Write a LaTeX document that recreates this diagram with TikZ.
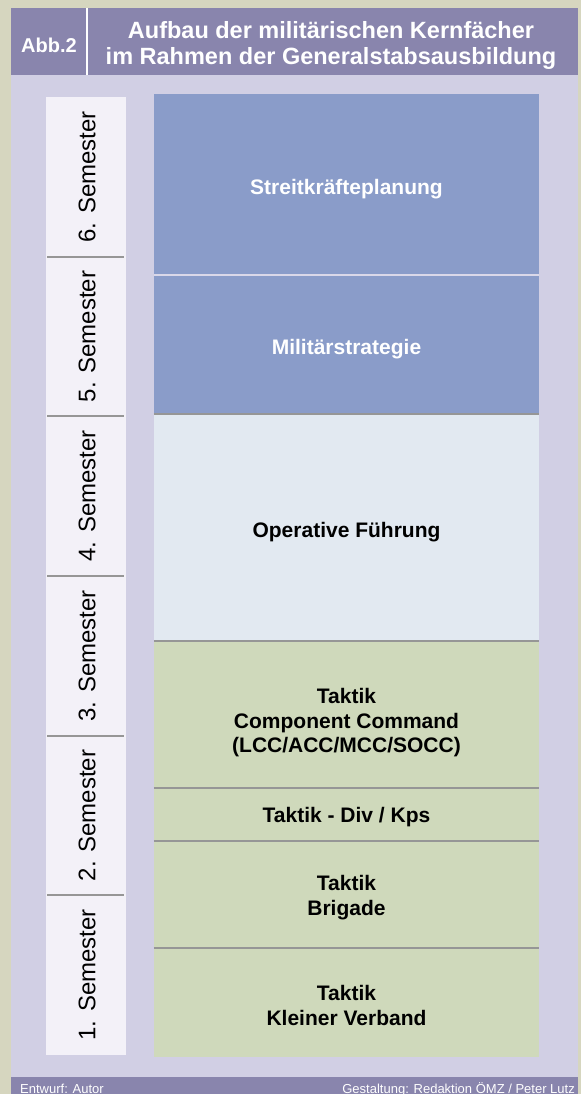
\documentclass[tikz,border=0pt]{standalone}
\usepackage{fontspec}
\setmainfont{Liberation Sans}
\usepackage{tikz}

\definecolor{rahmen}{RGB}{214,214,191}
\definecolor{kopf}{RGB}{137,133,173}
\definecolor{grund}{RGB}{209,207,228}
\definecolor{semfeld}{RGB}{243,241,248}
\definecolor{blaufeld}{RGB}{138,156,201}
\definecolor{hellfeld}{RGB}{226,233,241}
\definecolor{gruenfeld}{RGB}{207,217,187}
\definecolor{trenner}{RGB}{150,150,150}

\begin{document}
\begin{tikzpicture}[x=1pt,y=1pt,yscale=-1,xscale=1,
  fach/.style={draw=none,inner sep=0pt,minimum width=385},
  fachtext/.style={inner sep=0pt,align=center,
    font=\fontsize{21}{24.5}\selectfont\bfseries},
  semtext/.style={rotate=90,inner sep=0pt,font=\fontsize{24}{28}\selectfont},
  semlinie/.style={draw=trenner,line width=1.5},
  fachlinie/.style={draw=trenner,line width=1.5},
  fuss/.style={inner sep=0pt,text=white,font=\fontsize{13}{15}\selectfont}]
\useasboundingbox (0,0) rectangle (581,1094);

%Shape: Rectangle (background)
\fill [rahmen] (0,0) rectangle (581,1094);
\fill [grund] (11,75) rectangle (578,1077);
%Shape: Rectangle (header and footer bands)
\fill [kopf] (11,8) rectangle (578,75);
\fill [kopf] (11,1077) rectangle (578,1094);
%Straight Lines
\draw [white,line width=2] (87,8) -- (87,75);

% Text Node
\node (abb) [inner sep=0pt,text=white,font=\fontsize{20}{24}\selectfont\bfseries] at (49,45) {Abb.2};
% Text Node
\node (titel) [inner sep=0pt,text=white,align=center,font=\fontsize{23.5}{26}\selectfont\bfseries] at (331,45) {Aufbau der militärischen Kernfächer\\im Rahmen der Generalstabsausbildung};

%Shape: Rectangle (semester column)
\fill [semfeld] (46,97) rectangle (126,1055);
%Straight Lines
\draw [semlinie] (47,257) -- (124,257);
\draw [semlinie] (47,416) -- (124,416);
\draw [semlinie] (47,576) -- (124,576);
\draw [semlinie] (47,736) -- (124,736);
\draw [semlinie] (47,895) -- (124,895);

% Text Node
\node (sem6) [semtext] at (87,177) {6. Semester};
\node (sem5) [semtext] at (87,336.5) {5. Semester};
\node (sem4) [semtext] at (87,496) {4. Semester};
\node (sem3) [semtext] at (87,656) {3. Semester};
\node (sem2) [semtext] at (87,815.5) {2. Semester};
\node (sem1) [semtext] at (87,975) {1. Semester};

% Subject blocks
\node (planung) [fach,fill=blaufeld,minimum height=181] at (346.5,184.5) {};
\node (strategie) [fach,fill=blaufeld,minimum height=139] at (346.5,344.5) {};
\node (operativ) [fach,fill=hellfeld,minimum height=227] at (346.5,527.5) {};
\node (comcmd) [fach,fill=gruenfeld,minimum height=147] at (346.5,714.5) {};
\node (divkps) [fach,fill=gruenfeld,minimum height=53] at (346.5,814.5) {};
\node (brigade) [fach,fill=gruenfeld,minimum height=107] at (346.5,894.5) {};
\node (verband) [fach,fill=gruenfeld,minimum height=109] at (346.5,1002.5) {};

%Straight Lines (separators)
\draw [grund!80!white,line width=2] (planung.south west) -- (planung.south east);
\draw [fachlinie] (strategie.south west) -- (strategie.south east);
\draw [fachlinie] (operativ.south west) -- (operativ.south east);
\draw [fachlinie] (comcmd.south west) -- (comcmd.south east);
\draw [fachlinie] (divkps.south west) -- (divkps.south east);
\draw [fachlinie] (brigade.south west) -- (brigade.south east);

% Text Node
\node (planungtext) [fachtext,text=white] at (346.5,189.5) {Streitkräfteplanung};
\node (strategietext) [fachtext,text=white] at (346.5,349) {Militärstrategie};
\node (operativtext) [fachtext] at (346.5,532) {Operative Führung};
\node (comcmdtext) [fachtext] at (346.5,723) {Taktik\\Component Command\\(LCC/ACC/MCC/SOCC)};
\node (divkpstext) [fachtext] at (346.5,817.5) {Taktik - Div / Kps};
\node (brigadetext) [fachtext] at (346.5,897.5) {Taktik\\Brigade};
\node (verbandtext) [fachtext] at (346.5,1005.5) {Taktik\\Kleiner Verband};

% Text Node
\node (entwurf) [fuss,anchor=base west] at (20,1093) {Entwurf: Autor};
% Text Node
\node (gestaltung) [fuss,anchor=base east] at (575,1093) {Gestaltung: Redaktion ÖMZ / Peter Lutz};

\end{tikzpicture}
\end{document}
